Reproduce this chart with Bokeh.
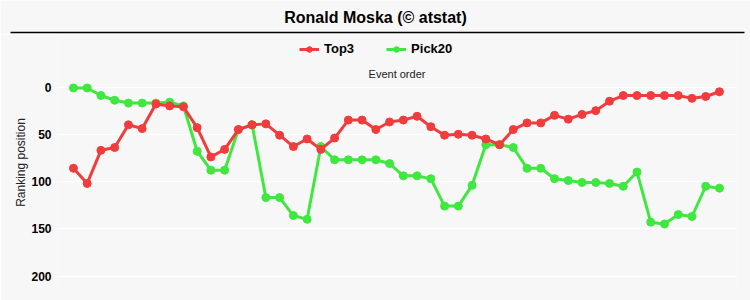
from bokeh.plotting import figure
from bokeh.models import (Range1d, LinearAxis, FixedTicker, Label, BoxAnnotation,
                          Legend, LegendItem, ColumnDataSource)
from bokeh.layouts import column
from bokeh.embed import file_html
from bokeh.resources import INLINE

title_text = "Ronald Moska (© atstat)"
x_title = "Event order"
y_title = "Ranking position"
series_names = ["Top3", "Pick20"]
event_index = list(range(1, 49))
top3 = [86, 102, 67, 64, 40, 44, 18, 20, 21, 43,
        74, 66, 45, 40, 39, 51, 63, 55, 66, 54,
        35, 35, 45, 37, 35, 31, 42, 51, 50, 51,
        55, 61, 45, 38, 38, 30, 34, 29, 25, 15,
        9, 9, 9, 9, 9, 12, 10, 5]
pick20 = [1, 1, 9, 14, 17, 17, 17, 16, 20, 68,
          88, 88, 45, 40, 117, 117, 136, 140, 63, 77,
          77, 77, 77, 81, 94, 94, 97, 126, 126, 104,
          61, 61, 64, 86, 86, 97, 99, 101, 101, 102,
          105, 90, 143, 145, 135, 137, 105, 107]
y_ticks = [0, 50, 100, 150, 200]

RED = "#f03c3c"
GREEN = "#3fe83f"
BG = "#f7f7f7"
FONT = "Liberation Sans"

W, H = 750, 300
HEAD = 34

# ---- header: title + separator ----
head = figure(width=W, height=HEAD, output_backend="svg", toolbar_location=None,
              x_range=Range1d(0, W), y_range=Range1d(HEAD, 0),
              x_axis_location=None, y_axis_location=None,
              min_border=0, min_border_left=0, min_border_right=0,
              min_border_top=0, min_border_bottom=0)
head.frame_align = False
head.background_fill_color = BG
head.border_fill_color = BG
head.outline_line_color = None
head.grid.visible = False
head.add_layout(Label(x=375, y=17, text=title_text, text_align="center",
                      text_baseline="middle", text_font=FONT, text_font_style="bold",
                      text_font_size="16px", text_color="black"))
head.add_layout(BoxAnnotation(left=10, right=744, top=31.2, bottom=32.8,
                              fill_color="black", fill_alpha=1, line_color=None))

# ---- main chart ----
L, R, B = 57, 14, 10
MH = H - HEAD                 # 266
FH = MH - B                   # frame height 256 (canvas y 34..290)
Y_TOP, Y_BOT = -55.56, 215.3  # value at frame top / bottom (reversed axis)

p = figure(width=W, height=MH, output_backend="svg", toolbar_location=None,
           x_range=Range1d(-0.16, 49.24), y_range=Range1d(Y_BOT, Y_TOP),
           x_axis_location=None, y_axis_location=None,
           min_border_left=L, min_border_right=R, min_border_top=0, min_border_bottom=B)
p.frame_align = False
p.background_fill_color = BG
p.border_fill_color = BG
p.outline_line_color = None
p.xgrid.visible = False
p.ygrid.ticker = FixedTicker(ticks=y_ticks)
p.ygrid.grid_line_color = "white"
p.ygrid.grid_line_width = 1

yax = LinearAxis(ticker=FixedTicker(ticks=y_ticks), axis_label=y_title)
yax.axis_line_color = None
yax.major_tick_line_color = None
yax.minor_tick_line_color = None
yax.major_tick_out = 0
yax.major_tick_in = 0
yax.major_label_standoff = 6
yax.major_label_text_font = FONT
yax.major_label_text_font_style = "bold"
yax.major_label_text_font_size = "12px"
yax.major_label_text_color = "black"
yax.axis_label_text_font = FONT
yax.axis_label_text_font_style = "normal"
yax.axis_label_text_font_size = "12px"
yax.axis_label_text_color = "#222222"
yax.axis_label_standoff = 0
p.add_layout(yax, "left")

src = ColumnDataSource(dict(x=event_index, top3=top3, pick20=pick20))

g_line = p.line("x", "pick20", source=src, line_color=GREEN, line_width=3)
g_pts = p.scatter("x", "pick20", source=src, size=8, fill_color=GREEN, line_color=GREEN)
r_line = p.line("x", "top3", source=src, line_color=RED, line_width=3)
r_pts = p.scatter("x", "top3", source=src, size=8, fill_color=RED, line_color=RED)

legend = Legend(items=[LegendItem(label=series_names[0], renderers=[r_line, r_pts]),
                       LegendItem(label=series_names[1], renderers=[g_line, g_pts])],
                orientation="horizontal", location=(242, FH - 22))
legend.background_fill_alpha = 0
legend.border_line_color = None
legend.padding = 0
legend.margin = 0
legend.spacing = 32
legend.glyph_width = 20
legend.glyph_height = 14
legend.label_height = 14
legend.label_standoff = 5
legend.label_text_font = FONT
legend.label_text_font_style = "bold"
legend.label_text_font_size = "13px"
legend.label_text_color = "black"
p.add_layout(legend, "center")

# x-axis title (the axis itself shows no ticks or labels in the original)
p.add_layout(Label(x=(W - R - L) / 2, y=FH - (73 - HEAD), x_units="screen", y_units="screen",
                   text=x_title, text_align="center", text_baseline="middle",
                   text_font=FONT, text_font_size="11px", text_color="#222222"))

layout = column(head, p, spacing=0)
open("out.html", "w").write(file_html(layout, INLINE))
